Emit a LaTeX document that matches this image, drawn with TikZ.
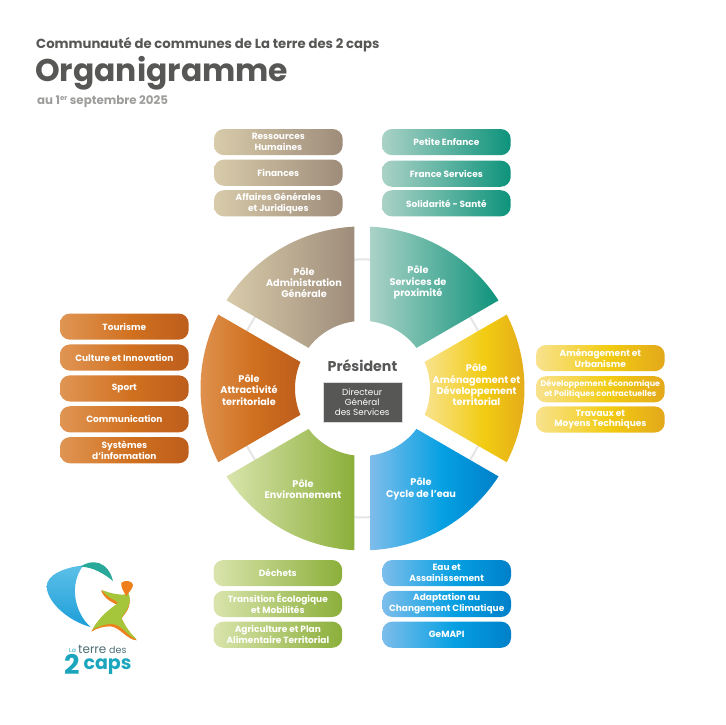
\documentclass[tikz,border=0pt]{standalone}
\usepackage{fontspec}
\setmainfont{Poppins}
\usetikzlibrary{positioning}

\definecolor{ink}{HTML}{575756}
\definecolor{inkgris}{HTML}{9D9D9C}
\definecolor{logoteal}{HTML}{2AA89A}
\definecolor{logoblue}{HTML}{1D9ED8}
\definecolor{logocyan}{HTML}{5CC0E8}
\definecolor{logogreen}{HTML}{A5C63B}
\definecolor{logopale}{HTML}{C9D96A}
\definecolor{logoorange}{HTML}{EE7F1A}
\definecolor{logotext}{HTML}{1BA6BE}
\definecolor{logodark}{HTML}{4D6F75}
\definecolor{admA}{HTML}{D8CBAA}\definecolor{admB}{HTML}{BDAB90}\definecolor{admC}{HTML}{9E8C7A}
\definecolor{serA}{HTML}{AAD2C6}\definecolor{serB}{HTML}{62B5A2}\definecolor{serC}{HTML}{0E937B}
\definecolor{ameA}{HTML}{F8E28E}\definecolor{ameB}{HTML}{F2CC12}\definecolor{ameC}{HTML}{E3A81B}
\definecolor{cycA}{HTML}{7DBDEB}\definecolor{cycB}{HTML}{05A0E2}\definecolor{cycC}{HTML}{0080C9}
\definecolor{envA}{HTML}{D9E4AC}\definecolor{envB}{HTML}{B3CB6C}\definecolor{envC}{HTML}{8BAF3A}
\definecolor{attA}{HTML}{E09553}\definecolor{attB}{HTML}{D0701F}\definecolor{attC}{HTML}{BD5D1C}

% these three keep their brightest colour past the middle
\pgfdeclarehorizontalshading{ameshade}{100bp}{color(0bp)=(ameA); color(25bp)=(ameA); color(53bp)=(ameB); color(75bp)=(ameC); color(100bp)=(ameC)}
\pgfdeclarehorizontalshading{cycshade}{100bp}{color(0bp)=(cycA); color(25bp)=(cycA); color(53bp)=(cycB); color(75bp)=(cycC); color(100bp)=(cycC)}
\pgfdeclarehorizontalshading{attshade}{100bp}{color(0bp)=(attA); color(25bp)=(attA); color(53bp)=(attB); color(75bp)=(attC); color(100bp)=(attC)}

\tikzset{
  polebox/.style={minimum width=128.7pt, minimum height=26.2pt, inner sep=0pt, outer sep=0pt, rounded corners=10pt,
    text=white, align=center, font=\bfseries\fontsize{9}{10.6}\selectfont},
  admin/.style={left color=admA, middle color=admB, right color=admC},
  servi/.style={left color=serA, middle color=serB, right color=serC},
  amena/.style={shade, shading=ameshade},
  cycle/.style={shade, shading=cycshade},
  envir/.style={left color=envA, middle color=envB, right color=envC},
  attra/.style={shade, shading=attshade},
  polelabel/.style={text=white, align=center, inner sep=0pt, font=\bfseries\fontsize{9.7}{11.3}\selectfont},
  logotxt/.style={inner sep=0pt, anchor=base west},
}

% one pole of the wheel, #1 = start of its 60 degrees
\newcommand{\polesector}[1]{(#1+2.9:162pt) arc[start angle=#1+2.9, end angle=#1+57.1, radius=162pt]
  -- (#1+53.1:67.5pt) arc[start angle=#1+53.1, end angle=#1+6.9, radius=67.5pt] -- cycle}

\begin{document}
\begin{tikzpicture}[x=1pt, y=1pt]
  \useasboundingbox (0,0) rectangle (725,-725);

  % titles
  \node[anchor=base west, inner sep=0pt, text=ink, font=\bfseries\fontsize{13.2}{16}\selectfont] (comcom) at (36,-48.5) {Communauté de communes de La terre des 2 caps};
  \node[anchor=base west, inner sep=0pt, text=ink, font=\bfseries\fontsize{31.4}{36}\selectfont] (orga) at (35,-81.5) {Organigramme};
  \node[anchor=base west, inner sep=0pt, text=inkgris, font=\bfseries\fontsize{11.8}{13}\selectfont] (date) at (37,-104.5) {au 1\raisebox{3.8pt}{\fontsize{7}{7}\selectfont er} septembre 2025};

  % wheel
  \begin{scope}[shift={(362.5,-388.4)}]
    \draw[line width=2pt, black!10] (0,0) circle[radius=129pt];
    \shade[servi] \polesector{30};
    \shade[admin] \polesector{90};
    \shade[attra] \polesector{150};
    \shade[envir] \polesector{210};
    \shade[cycle] \polesector{270};
    \shade[amena] \polesector{330};
  \end{scope}

  \node[polelabel] (padmin) at (304,-282.5) {Pôle\\Administration\\Générale};
  \node[polelabel] (pservi) at (418,-282.5) {Pôle\\Services de\\proximité};
  \node[polelabel] (pamena) at (476.5,-385) {Pôle\\Aménagement et\\Développement\\territorial};
  \node[polelabel] (pcycle) at (421,-489) {Pôle\\Cycle de l'eau};
  \node[polelabel] (penvir) at (303,-489) {Pôle\\Environnement};
  \node[polelabel] (pattra) at (249,-390) {Pôle\\Attractivité\\territoriale};

  \node[text=ink, inner sep=0pt, font=\bfseries\fontsize{14.2}{16}\selectfont] (president) at (362.5,-366) {Président};
  \node[fill=ink, draw=black!15, minimum width=79pt, minimum height=40pt, inner sep=0pt, text=white, align=center,
        font=\fontsize{8.8}{10}\selectfont, anchor=north] (dgs) at (362.2,-382.3) {Directeur\\Général\\des Services};

  % administration
  \node[polebox, admin, anchor=north west] (rh) at (214,-129) {Ressources\\Humaines};
  \node[polebox, admin, below=4.4pt of rh] (finances) {Finances};
  \node[polebox, admin, below=4.4pt of finances] (affaires) {Affaires Générales\\et Juridiques};

  % services de proximite
  \node[polebox, servi, anchor=north west] (enfance) at (382,-129) {Petite Enfance};
  \node[polebox, servi, below=5.4pt of enfance] (france) {France Services};
  \node[polebox, servi, below=3.4pt of france] (solidarite) {Solidarité - Santé};

  % amenagement
  \node[polebox, amena, anchor=north west] (urba) at (536,-345) {Aménagement et\\Urbanisme};
  \node[polebox, amena, below=5pt of urba, font=\bfseries\fontsize{8}{9.5}\selectfont] (eco) {Développement économique\\et Politiques contractuelles};
  \node[polebox, amena, below=4pt of eco] (travaux) {Travaux et\\Moyens Techniques};

  % attractivite
  \node[polebox, attra, anchor=north west] (tourisme) at (60,-313.5) {Tourisme};
  \node[polebox, attra, below=4.7pt of tourisme] (culture) {Culture et Innovation};
  \node[polebox, attra, below=4.7pt of culture] (sport) {Sport};
  \node[polebox, attra, below=4.7pt of sport] (comm) {Communication};
  \node[polebox, attra, below=4.7pt of comm] (si) {Systèmes\\d'information};

  % environnement
  \node[polebox, envir, anchor=north west] (dechets) at (213.5,-560) {Déchets};
  \node[polebox, envir, below=4.6pt of dechets] (transition) {Transition Écologique\\et Mobilités};
  \node[polebox, envir, below=4.6pt of transition] (agri) {Agriculture et Plan\\Alimentaire Territorial};

  % cycle de l'eau
  \node[polebox, cycle, anchor=north west] (eau) at (382.3,-560) {Eau et\\Assainissement};
  \node[polebox, cycle, below=4.6pt of eau] (adapt) {Adaptation au\\Changement Climatique};
  \node[polebox, cycle, below=4.6pt of adapt] (gemapi) {GeMAPI};

  % logo
  \begin{scope}[shift={(40,-555)}, x=0.3333pt, y=-0.3333pt]
    \shade[left color=logoblue, right color=logoblue!85!black, top color=logocyan, bottom color=logoblue]
      (130,31) .. controls (70,38) and (20,60) .. (20,95)
      .. controls (22,145) and (90,200) .. (152,216)
      .. controls (105,175) and (85,90) .. (130,31) -- cycle;
    \fill[logoteal] (122,35) .. controls (155,10) and (205,18) .. (219,78)
      .. controls (195,58) and (160,36) .. (122,35) -- cycle;
    \fill[logoorange] (154,230) .. controls (180,180) and (215,165) .. (233,150)
      .. controls (218,142) and (195,135) .. (183,106) -- (190,110)
      .. controls (220,120) and (250,125) .. (266,118)
      .. controls (278,155) and (255,175) .. (245,190)
      .. controls (260,225) and (280,245) .. (291,256)
      .. controls (260,255) and (240,215) .. (210,214)
      .. controls (190,214) and (170,220) .. (154,230) -- cycle;
    \shade[left color=logogreen, middle color=logopale, right color=logogreen]
      (158,224) .. controls (180,180) and (215,160) .. (234,143)
      .. controls (222,132) and (202,130) .. (186,105)
      .. controls (215,117) and (250,123) .. (266,115)
      .. controls (278,150) and (252,175) .. (244,190)
      .. controls (260,220) and (275,240) .. (289,252)
      .. controls (265,247) and (245,207) .. (215,207)
      .. controls (195,207) and (175,215) .. (158,224) -- cycle;
    \fill[logoorange] (244,83) .. controls (255,74) and (279,78) .. (279,90)
      .. controls (279,101) and (266,111) .. (259,123)
      .. controls (249,108) and (242,94) .. (244,83) -- cycle;
    \node[logotxt, text=logotext, font=\fontsize{6}{7}\selectfont] (logola) at (87,292) {La};
    \node[logotxt, text=logodark, font=\fontsize{12}{14}\selectfont] (logoterre) at (114,295) {terre};
    \node[logotxt, text=logodark, font=\fontsize{9.5}{11}\selectfont] (logodes) at (207,295) {des};
    \node[logotxt, text=logotext, font=\bfseries\fontsize{27}{30}\selectfont] (logodeux) at (72,358) {2};
    \node[logotxt, text=logotext, font=\bfseries\fontsize{19}{20}\selectfont] (logocaps) at (130,345) {caps};
  \end{scope}
\end{tikzpicture}
\end{document}
